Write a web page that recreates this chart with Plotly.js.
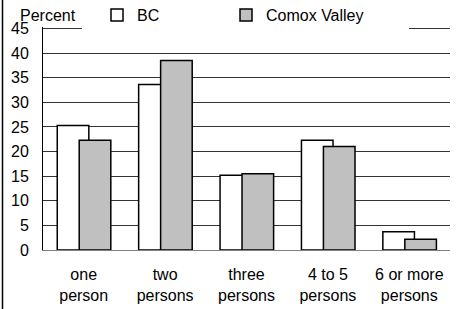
<!DOCTYPE html>
<html>
<head>
<meta charset="utf-8">
<script src="https://cdn.plot.ly/plotly-3.0.1.min.js"></script>
<style>
html,body{margin:0;padding:0;background:#fff;}
#chart{width:456px;height:309px;}
</style>
</head>
<body>
<div id="chart"></div>
<script>
var categories = ["one<br>person", "two<br>persons", "three<br>persons", "4 to 5<br>persons", "6 or more<br>persons"];
var bcValues = [25.3, 33.6, 15.2, 22.3, 3.7];
var comoxValues = [22.3, 38.5, 15.5, 21.0, 2.2];
var yTicks = [0, 5, 10, 15, 20, 25, 30, 35, 40, 45];

var FONT = "Arial, 'Liberation Sans', sans-serif";
var L = 43, R = 6, T = 27, B = 59;
var W = 456 - L - R, H = 309 - T - B;

var traces = [
  {
    type: "bar", name: "BC", x: categories, y: bcValues,
    width: 0.388, offset: -0.325,
    marker: {color: "#ffffff", line: {color: "#000000", width: 1.5}},
    legendwidth: 69
  },
  {
    type: "bar", name: "Comox Valley", x: categories, y: comoxValues,
    width: 0.388, offset: -0.055,
    marker: {color: "#c0c0c0", line: {color: "#000000", width: 1.5}},
    legendwidth: 138
  }
];

var layout = {
  width: 456, height: 309,
  margin: {l: L, r: R, t: T, b: B, pad: 0, autoexpand: false},
  paper_bgcolor: "#ffffff", plot_bgcolor: "#ffffff",
  font: {family: FONT, size: 16, color: "#000000"},
  barmode: "overlay",
  showlegend: true,
  legend: {
    orientation: "h",
    x: (82 - L) / W, xanchor: "left",
    y: (309 - B - 15) / H, yanchor: "middle",
    indentation: 15,
    bgcolor: "#ffffff", borderwidth: 0,
    font: {family: FONT, size: 16},
    itemclick: false, itemdoubleclick: false,
    traceorder: "normal"
  },
  xaxis: {
    type: "category",
    showgrid: false,
    showline: true, linecolor: "#808080", linewidth: 1,
    ticks: "", ticklabelstandoff: 10,
    tickfont: {family: FONT, size: 16},
    fixedrange: true
  },
  yaxis: {
    range: [0, 45.29],
    tickvals: yTicks,
    ticktext: yTicks.map(String),
    showgrid: true, gridcolor: "#333333", gridwidth: 1,
    zeroline: false,
    showline: true, linecolor: "#000000", linewidth: 1,
    ticks: "", ticklabelstandoff: 10,
    tickfont: {family: FONT, size: 16},
    fixedrange: true
  },
  annotations: [
    {
      text: "Percent", xref: "paper", yref: "paper",
      x: (18 - L) / W, xanchor: "left",
      y: (309 - B - 15) / H, yanchor: "middle",
      showarrow: false, font: {family: FONT, size: 16}
    }
  ],
  shapes: [
    {
      type: "line", xref: "paper", yref: "paper",
      x0: (2.5 - L) / W, x1: (2.5 - L) / W,
      y0: -B / H - 0.1, y1: 1 + T / H + 0.1,
      line: {color: "#000000", width: 1.5}
    }
  ]
};

Plotly.newPlot("chart", traces, layout, {displayModeBar: false, staticPlot: true});
</script>
</body>
</html>
